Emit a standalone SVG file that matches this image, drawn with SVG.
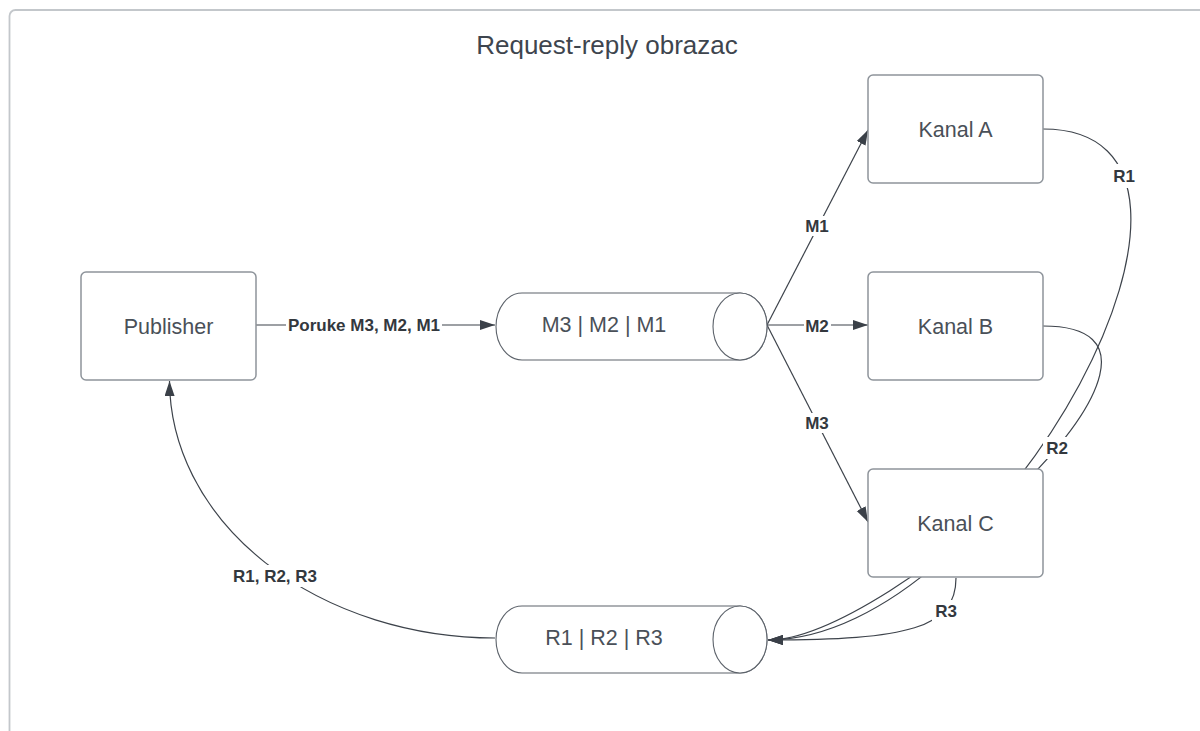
<svg xmlns="http://www.w3.org/2000/svg" width="1200" height="731" viewBox="0 0 1200 731">
<defs>
<style>
.frame{fill:#fff;stroke:#c3c7cb;stroke-width:1.8}
.box{fill:#fff;stroke:#8e949b;stroke-width:1.5}
.cyl{fill:#fff;stroke:#5d636b;stroke-width:1.1}
.conn{fill:none;stroke:#3d434b;stroke-width:1.2}
.bg{fill:#fff;stroke:none}
.ntext{font-family:"Liberation Sans",Arial,sans-serif;font-size:21.5px;fill:#4a5058;text-anchor:middle}
.title{font-family:"Liberation Sans",Arial,sans-serif;font-size:26px;fill:#3e454e;text-anchor:middle}
.lbl{font-family:"Liberation Sans",Arial,sans-serif;font-size:17px;font-weight:bold;fill:#33383e;text-anchor:middle}
</style>
<marker id="arr" markerUnits="userSpaceOnUse" markerWidth="16" markerHeight="12" refX="15" refY="5" orient="auto">
<path d="M0,0 L15,5 L0,10 Z" fill="#3a4048"/>
</marker>
</defs>
<rect class="frame" x="9.5" y="10" width="1300" height="1000" rx="6"/>
<text class="title" x="607" y="45" dy="0.35em">Request-reply obrazac</text>

<g id="connectors">
<path class="conn" d="M256 325 H495" marker-end="url(#arr)"/>
<path class="conn" d="M767 325 L868 130" marker-end="url(#arr)"/>
<path class="conn" d="M767 325 H868" marker-end="url(#arr)"/>
<path class="conn" d="M767 325 L868 522" marker-end="url(#arr)"/>
<path class="conn" d="M1043 129 C1275 129 1000 640 768 640" marker-end="url(#arr)"/>
<path class="conn" d="M1043 326 C1239 326 889 640 768 640" marker-end="url(#arr)"/>
<path class="conn" d="M956 578 C956 628 908 640 768 640" marker-end="url(#arr)"/>
<path class="conn" d="M495 638 A326 258 0 0 1 169.5 381" marker-end="url(#arr)"/>
<rect class="bg" x="286" y="316" width="156" height="19"/>
<rect class="bg" x="804" y="216" width="27" height="20"/>
<rect class="bg" x="804" y="317" width="27" height="18"/>
<rect class="bg" x="804" y="413" width="27" height="20"/>
<rect class="bg" x="1111" y="164" width="27" height="24"/>
<rect class="bg" x="1043" y="437" width="28" height="22"/>
<rect class="bg" x="932" y="600" width="28" height="22"/>
<rect class="bg" x="230" y="565" width="90" height="22"/>
<text class="lbl" x="364" y="325" dy="0.35em">Poruke M3, M2, M1</text>
<text class="lbl" x="817" y="226" dy="0.35em">M1</text>
<text class="lbl" x="817" y="326" dy="0.35em">M2</text>
<text class="lbl" x="817" y="423" dy="0.35em">M3</text>
<text class="lbl" x="1124" y="176" dy="0.35em">R1</text>
<text class="lbl" x="1057" y="448" dy="0.35em">R2</text>
<text class="lbl" x="946" y="611" dy="0.35em">R3</text>
<text class="lbl" x="275" y="576" dy="0.35em">R1, R2, R3</text>
</g>

<g id="publisher">
<rect class="box" x="81" y="272" width="175" height="108" rx="5"/>
<text class="ntext" x="168.5" y="326" dy="0.35em">Publisher</text>
</g>
<g id="queue-m">
<path class="cyl" d="M522 293 H740 A27 33.5 0 0 1 740 360 H522 A26 33.5 0 0 1 522 293 Z"/>
<ellipse class="cyl" cx="740" cy="326.5" rx="27" ry="33.5"/>
<text class="ntext" x="604" y="324" dy="0.35em">M3 | M2 | M1</text>
</g>
<g id="kanal-a">
<rect class="box" x="868" y="75" width="175" height="108" rx="5"/>
<text class="ntext" x="955.5" y="129" dy="0.35em">Kanal A</text>
</g>
<g id="kanal-b">
<rect class="box" x="868" y="272" width="175" height="108" rx="5"/>
<text class="ntext" x="955.5" y="326" dy="0.35em">Kanal B</text>
</g>
<g id="kanal-c">
<rect class="box" x="868" y="469" width="175" height="108" rx="5"/>
<text class="ntext" x="955.5" y="523" dy="0.35em">Kanal C</text>
</g>
<g id="queue-r">
<path class="cyl" d="M522 606 H740 A27 33.5 0 0 1 740 673 H522 A26 33.5 0 0 1 522 606 Z"/>
<ellipse class="cyl" cx="740" cy="639.5" rx="27" ry="33.5"/>
<text class="ntext" x="604" y="637" dy="0.35em">R1 | R2 | R3</text>
</g>
</svg>
